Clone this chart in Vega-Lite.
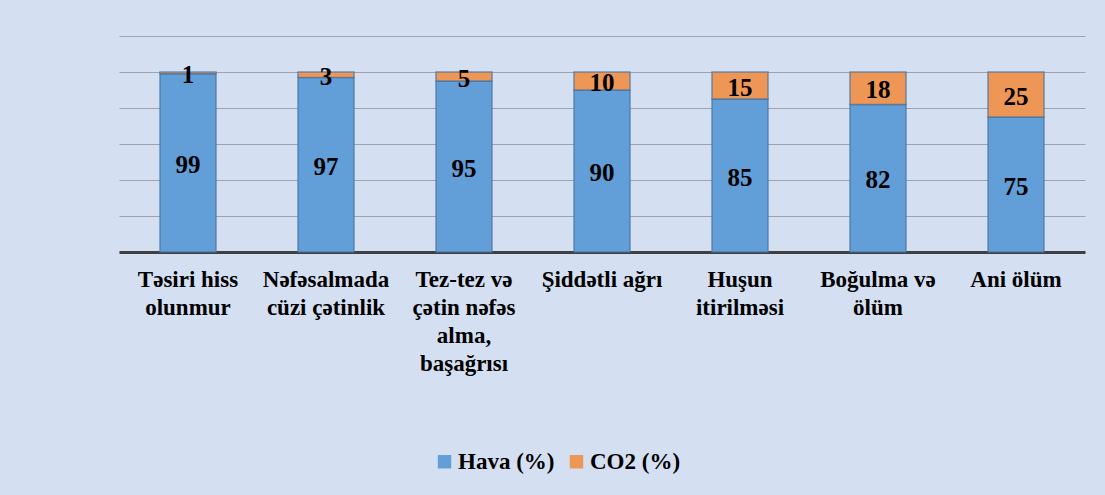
{
  "$schema": "https://vega.github.io/schema/vega-lite/v6.json",
  "width": 966,
  "height": 216,
  "autosize": {"type": "none"},
  "padding": {"left": 119, "top": 36, "right": 20, "bottom": 243},
  "background": "#d4dff2",
  "config": {
    "view": {"stroke": null},
    "font": "Liberation Serif",
    "text": {"font": "Liberation Serif"},
    "axis": {"labelFont": "Liberation Serif"},
    "legend": {"labelFont": "Liberation Serif"}
  },
  "data": {
    "values": [
      {"cat": "Təsiri hiss|olunmur", "series": "Hava (%)", "ord": 0, "value": 99},
      {"cat": "Təsiri hiss|olunmur", "series": "CO2 (%)", "ord": 1, "value": 1},
      {"cat": "Nəfəsalmada|cüzi çətinlik", "series": "Hava (%)", "ord": 0, "value": 97},
      {"cat": "Nəfəsalmada|cüzi çətinlik", "series": "CO2 (%)", "ord": 1, "value": 3},
      {"cat": "Tez-tez və|çətin nəfəs|alma,|başağrısı", "series": "Hava (%)", "ord": 0, "value": 95},
      {"cat": "Tez-tez və|çətin nəfəs|alma,|başağrısı", "series": "CO2 (%)", "ord": 1, "value": 5},
      {"cat": "Şiddətli ağrı", "series": "Hava (%)", "ord": 0, "value": 90},
      {"cat": "Şiddətli ağrı", "series": "CO2 (%)", "ord": 1, "value": 10},
      {"cat": "Huşun|itirilməsi", "series": "Hava (%)", "ord": 0, "value": 85},
      {"cat": "Huşun|itirilməsi", "series": "CO2 (%)", "ord": 1, "value": 15},
      {"cat": "Boğulma və|ölüm", "series": "Hava (%)", "ord": 0, "value": 82},
      {"cat": "Boğulma və|ölüm", "series": "CO2 (%)", "ord": 1, "value": 18},
      {"cat": "Ani ölüm", "series": "Hava (%)", "ord": 0, "value": 75},
      {"cat": "Ani ölüm", "series": "CO2 (%)", "ord": 1, "value": 25}
    ]
  },
  "transform": [
    {"stack": "value", "groupby": ["cat"], "sort": [{"field": "ord"}], "as": ["y0", "y1"]},
    {"calculate": "(datum.y0 + datum.y1) / 2", "as": "ymid"}
  ],
  "encoding": {
    "x": {
      "field": "cat",
      "type": "nominal",
      "sort": null,
      "scale": {"paddingInner": 0.594, "paddingOuter": 0.297},
      "axis": {
        "title": null,
        "labelAngle": 0,
        "labelExpr": "split(datum.label, '|')",
        "labelFont": "Liberation Serif",
        "labelFontSize": 23,
        "labelFontWeight": "bold",
        "labelColor": "#000000",
        "labelLineHeight": 28,
        "labelPadding": 16,
        "labelLimit": 300,
        "ticks": false,
        "domain": true,
        "domainColor": "#404040",
        "domainWidth": 3,
        "grid": false
      }
    }
  },
  "layer": [
    {
      "mark": {"type": "bar", "stroke": "#46719c", "strokeWidth": 1.5, "strokeOpacity": 0.7},
      "encoding": {
        "y": {
          "field": "y0",
          "type": "quantitative",
          "scale": {"domain": [0, 120], "nice": false},
          "axis": {
            "title": null,
            "labels": false,
            "ticks": false,
            "domain": false,
            "grid": true,
            "gridColor": "#9ea3ae",
            "gridWidth": 1,
            "values": [0, 20, 40, 60, 80, 100, 120]
          }
        },
        "y2": {"field": "y1"},
        "color": {
          "field": "series",
          "type": "nominal",
          "scale": {"domain": ["Hava (%)", "CO2 (%)"], "range": ["#629ed8", "#ee9655"]},
          "legend": {
            "title": null,
            "orient": "none",
            "direction": "horizontal",
            "legendX": 314,
            "legendY": 414,
            "symbolType": "square",
            "symbolSize": 180,
            "symbolStrokeWidth": 0,
            "labelFont": "Liberation Serif",
            "labelFontSize": 23,
            "labelFontWeight": "bold",
            "labelColor": "#000000",
            "labelOffset": 2,
            "columnPadding": 10
          }
        }
      }
    },
    {
      "mark": {"type": "text", "font": "Liberation Serif", "fontSize": 25, "fontWeight": "bold", "color": "#000000", "baseline": "middle", "dy": 2},
      "encoding": {
        "y": {
          "field": "ymid",
          "type": "quantitative",
          "scale": {"domain": [0, 120], "nice": false},
          "axis": {
            "title": null,
            "labels": false,
            "ticks": false,
            "domain": false,
            "grid": true,
            "gridColor": "#9ea3ae",
            "gridWidth": 1,
            "values": [0, 20, 40, 60, 80, 100, 120]
          }
        },
        "text": {"field": "value", "type": "quantitative"}
      }
    }
  ]
}
